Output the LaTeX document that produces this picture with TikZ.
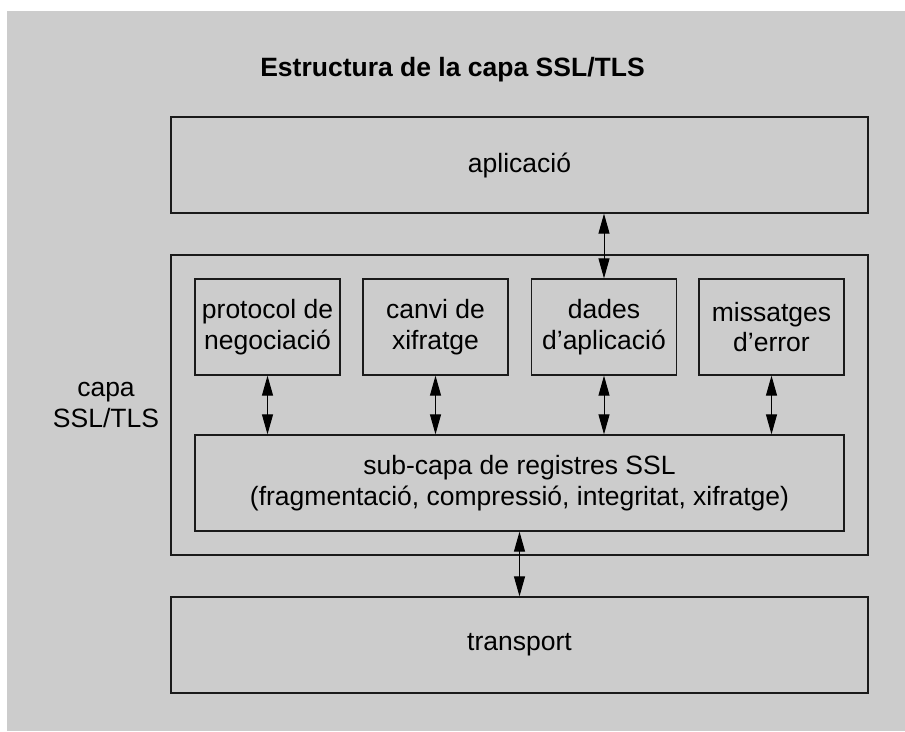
\documentclass[tikz,border=0pt]{standalone}
\usepackage{fontspec}
\setmainfont{Liberation Sans}
\usetikzlibrary{arrows.meta}
\definecolor{bggray}{HTML}{CCCCCC}
\definecolor{edge}{HTML}{1A1A1A}
\begin{document}
\begin{tikzpicture}[x=1pt,y=-1pt,
  txt/.style={font=\fontsize{26.5}{30.5}\selectfont, align=center, inner sep=0pt},
  box/.style={txt, draw=edge, line width=1.3pt, rectangle},
  layerbox/.style={box, minimum width=697pt, minimum height=96pt},
  protobox/.style={box, minimum width=145pt, minimum height=96pt},
  arr/.style={draw=black, line width=1pt, {Triangle[length=20pt,width=11pt]}-{Triangle[length=20pt,width=11pt]}, shorten <=0pt, shorten >=0pt}
]
\useasboundingbox (0,0) rectangle (905,731);
\fill[bggray] (7,11) rectangle (905,731);

\node[txt, font=\bfseries\fontsize{26.5}{30.5}\selectfont, anchor=base] (title) at (452.5,76) {Estructura de la capa SSL/TLS};

\node[layerbox] (app) at (519.5,165) {aplicació};
\node[box, minimum width=697pt, minimum height=300pt] (ssl) at (519.5,405) {};
\node[layerbox] (trans) at (519.5,645) {transport};

\node[txt, font=\fontsize{26.5}{31.5}\selectfont] (capa) at (106,405) {capa\\SSL/TLS};

\node[protobox] (prot) at (267.5,327) {protocol de\\negociació};
\node[protobox] (canvi) at (435.5,327) {canvi de\\xifratge};
\node[protobox] (dades) at (604,327) {dades\\d’aplicació};
\node[protobox] (err) at (771.5,327) {missatges\\d’error};

\node[box, minimum width=649pt, minimum height=96pt] (sub) at (519.5,483) {sub-capa de registres SSL\\(fragmentació, compressió, integritat, xifratge)};

\draw[arr] (app.south -| dades.north) -- (dades.north);
\draw[arr] (prot.south) -- (prot.south |- sub.north);
\draw[arr] (canvi.south) -- (canvi.south |- sub.north);
\draw[arr] (dades.south) -- (dades.south |- sub.north);
\draw[arr] (err.south) -- (err.south |- sub.north);
\draw[arr] (sub.south) -- (trans.north);
\end{tikzpicture}
\end{document}
